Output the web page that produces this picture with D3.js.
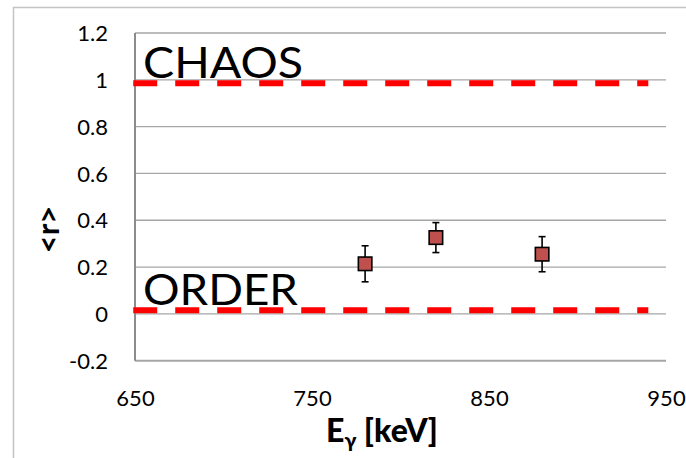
<!DOCTYPE html>
<html>
<head>
<meta charset="utf-8">
<script src="https://cdn.jsdelivr.net/npm/d3@7"></script>
<style>
  html, body { margin: 0; padding: 0; background: #fff; }
  svg { display: block; }
  text { font-family: Lato, "Open Sans", sans-serif; fill: #000; }
</style>
</head>
<body>
<svg id="chart" width="686" height="458"></svg>
<script>
// Mean level-spacing ratio <r> versus gamma energy
const energies = [780, 820, 880];          // keV
const rValues  = [0.214, 0.326, 0.255];
const rErrors  = [0.077, 0.064, 0.075];

const xTicks = [650, 750, 850, 950];
const yTicks = [-0.2, 0, 0.2, 0.4, 0.6, 0.8, 1, 1.2];

// Reference limits: chaotic (GOE-like) and ordered regimes
const limitNames  = ["CHAOS", "ORDER"];
const limitValues = [0.985, 0.015];
const limitSpan   = [649, 940];

const svg = d3.select("#chart");
const W = 686, H = 458;
const plot = { left: 135, right: 666, top: 33, bottom: 360.7 };

// chart-area frame
svg.append("rect")
  .attr("x", 13.5).attr("y", 7.5)
  .attr("width", W).attr("height", H)
  .attr("fill", "none").attr("stroke", "#c4c4c4").attr("stroke-width", 1.5);

const x = d3.scaleLinear().domain([650, 950]).range([plot.left, plot.right]);
const y = d3.scaleLinear().domain([-0.2, 1.2]).range([plot.bottom, plot.top]);

// horizontal gridlines
svg.append("g")
  .selectAll("line")
  .data(yTicks)
  .join("line")
  .attr("x1", plot.left).attr("x2", plot.right)
  .attr("y1", d => y(d)).attr("y2", d => y(d))
  .attr("stroke", "#a6a6a6")
  .attr("stroke-width", d => d === -0.2 ? 2 : 1.3);

// left axis line
svg.append("line")
  .attr("x1", plot.left).attr("x2", plot.left)
  .attr("y1", plot.top).attr("y2", plot.bottom)
  .attr("stroke", "#8c8c8c").attr("stroke-width", 2);

// y tick labels (plain hyphen for negatives)
const yAxis = d3.axisLeft(y).tickValues(yTicks).tickSize(0).tickPadding(0)
  .tickFormat(d => String(+d.toFixed(1)));
const gy = svg.append("g").attr("transform", `translate(108,0)`).call(yAxis);
gy.select(".domain").remove();
gy.selectAll("text")
  .attr("font-size", 22).attr("dy", "0.35em")
  .style("font-family", "Lato, 'Open Sans', sans-serif").attr("fill", "#000");

// x tick labels
const xAxis = d3.axisBottom(x).tickValues(xTicks).tickSize(0).tickPadding(0)
  .tickFormat(d => String(d));
const gx = svg.append("g").attr("transform", `translate(0,398)`).call(xAxis);
gx.select(".domain").remove();
gx.selectAll("text")
  .attr("font-size", 22).attr("dy", "0.35em")
  .style("font-family", "Lato, 'Open Sans', sans-serif").attr("fill", "#000");

// dashed limit lines
svg.append("g")
  .selectAll("line")
  .data(limitValues)
  .join("line")
  .attr("x1", x(limitSpan[0])).attr("x2", x(limitSpan[1]))
  .attr("y1", d => y(d)).attr("y2", d => y(d))
  .attr("stroke", "#ff0000").attr("stroke-width", 6)
  .attr("stroke-dasharray", "24,18");

// limit labels
const labelWidths = [160, 155];
svg.append("g")
  .selectAll("text")
  .data(limitNames)
  .join("text")
  .attr("x", 143)
  .attr("y", (d, i) => y(limitValues[i]) - 5.5)
  .attr("font-size", 42)
  .attr("textLength", (d, i) => labelWidths[i])
  .attr("lengthAdjust", "spacingAndGlyphs")
  .text(d => d);

// error bars
const eb = svg.append("g").attr("stroke", "#000").attr("stroke-width", 1.6);
energies.forEach((e, i) => {
  const cx = x(e);
  const yt = y(rValues[i] + rErrors[i]);
  const yb = y(rValues[i] - rErrors[i]);
  eb.append("line").attr("x1", cx).attr("x2", cx).attr("y1", yt).attr("y2", yb);
  eb.append("line").attr("x1", cx - 3.5).attr("x2", cx + 3.5).attr("y1", yt).attr("y2", yt);
  eb.append("line").attr("x1", cx - 3.5).attr("x2", cx + 3.5).attr("y1", yb).attr("y2", yb);
});

// square markers
const ms = 13.5;
svg.append("g")
  .selectAll("rect")
  .data(energies)
  .join("rect")
  .attr("x", d => x(d) - ms / 2)
  .attr("y", (d, i) => y(rValues[i]) - ms / 2)
  .attr("width", ms).attr("height", ms)
  .attr("fill", "#c0504d").attr("stroke", "#000").attr("stroke-width", 1.6);

// x-axis title
const xt = svg.append("text")
  .attr("x", 326).attr("y", 442)
  .attr("font-size", 32).attr("font-weight", "900");
xt.append("tspan").text("E");
xt.append("tspan").attr("font-size", 21).attr("dy", 6).text("γ");
xt.append("tspan").attr("dy", -6).text(" [keV]");

// y-axis title
svg.append("text")
  .attr("transform", "translate(59,229.5) rotate(-90)")
  .attr("text-anchor", "middle")
  .attr("font-size", 31).attr("font-weight", "bold")
  .text("<r>");
</script>
</body>
</html>
